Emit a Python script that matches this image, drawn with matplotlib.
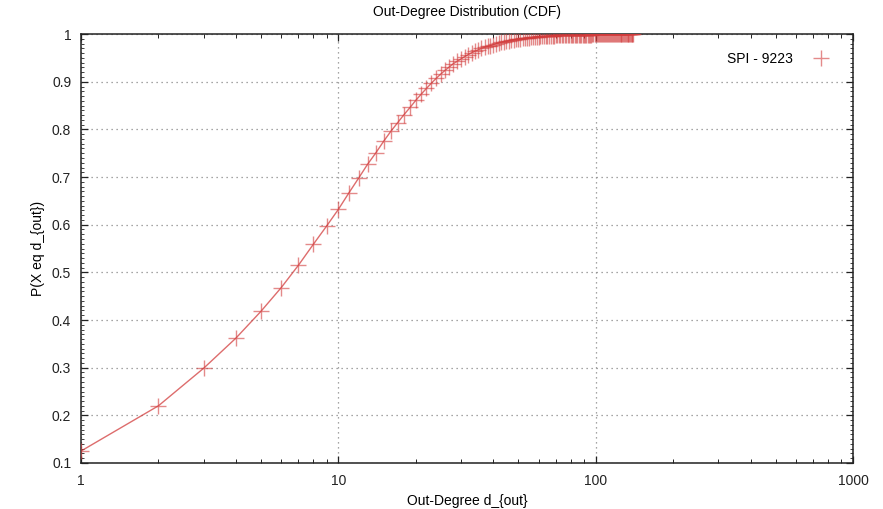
import matplotlib
matplotlib.use("Agg")
import matplotlib.pyplot as plt
from matplotlib.ticker import FixedLocator, MultipleLocator, LogLocator, NullFormatter

plt.rcParams['font.family'] = ['Liberation Sans', 'DejaVu Sans']

# Out-degree values and cumulative probability P(X <= d_out)
degrees = list(range(1, 141))
cdf = [
    0.125, 0.220, 0.299, 0.362, 0.418, 0.468, 0.515, 0.559, 0.597, 0.632,
    0.667, 0.698, 0.727, 0.751, 0.775, 0.796, 0.814, 0.831, 0.846, 0.861,
    0.874, 0.886, 0.897, 0.907, 0.916, 0.924, 0.931, 0.938, 0.943, 0.948,
    0.953, 0.957, 0.961, 0.964, 0.967, 0.970, 0.972, 0.974, 0.976, 0.978,
    0.980, 0.981, 0.983, 0.984, 0.985, 0.986, 0.987, 0.988, 0.989, 0.990,
    0.9905, 0.9910, 0.9915, 0.9920, 0.9925, 0.9930, 0.9934, 0.9938, 0.9942, 0.9946,
    0.9950, 0.9953, 0.9956, 0.9959, 0.9962, 0.9964, 0.9966, 0.9968, 0.9970, 0.9972,
    0.9974, 0.9975, 0.9976, 0.9977, 0.9978, 0.9980, 0.9981, 0.9982, 0.9983, 0.9984,
    0.9985, 0.9985, 0.9986, 0.9986, 0.9987, 0.9987, 0.9988, 0.9988, 0.9989, 0.9989,
    0.9990, 0.9990, 0.9990, 0.9991, 0.9991, 0.9991, 0.9992, 0.9992, 0.9992, 0.9993,
    0.9993, 0.9993, 0.9994, 0.9994, 0.9994, 0.9994, 0.9995, 0.9995, 0.9995, 0.9995,
    0.9996, 0.9996, 0.9996, 0.9996, 0.9997, 0.9997, 0.9997, 0.9997, 0.9997, 0.9998,
    0.9998, 0.9998, 0.9998, 0.9998, 0.9999, 0.9999, 0.9999, 0.9999, 0.9999, 0.9999,
    0.9999, 1.0000, 1.0000, 1.0000, 1.0000, 1.0000, 1.0000, 1.0000, 1.0000, 1.0000,
]
series_label = "SPI - 9223"
y_ticks = [0.1, 0.2, 0.3, 0.4, 0.5, 0.6, 0.7, 0.8, 0.9, 1.0]
y_tick_labels = ["0.1", "0.2", "0.3", "0.4", "0.5", "0.6", "0.7", "0.8", "0.9", "1"]
x_ticks = [1, 10, 100, 1000]
x_tick_labels = ["1", "10", "100", "1000"]

red = "#d23c3c"

fig = plt.figure(figsize=(8.83, 5.09), dpi=100)
ax = fig.add_axes([0.0917, 0.0904, 0.8743, 0.8426])

ax.plot(degrees, cdf, color=red, alpha=0.75, linewidth=1.0, zorder=2)
ax.plot(degrees, cdf, linestyle="none", marker="+", markersize=11,
        markeredgewidth=1.0, color=red, alpha=0.6, zorder=3, label=series_label)

ax.set_xscale("log")
ax.set_xlim(1, 1000)
ax.set_ylim(0.1, 1.0)

ax.xaxis.set_major_locator(FixedLocator(x_ticks))
ax.set_xticklabels(x_tick_labels)
ax.xaxis.set_minor_locator(LogLocator(base=10, subs=range(2, 10)))
ax.xaxis.set_minor_formatter(NullFormatter())
ax.yaxis.set_major_locator(FixedLocator(y_ticks))
ax.set_yticklabels(y_tick_labels)
ax.yaxis.set_minor_locator(MultipleLocator(0.01))

ax.tick_params(which="both", direction="in", top=True, right=True,
               labelsize=10, colors="#222222")
ax.tick_params(axis="x", pad=8)
ax.tick_params(axis="y", pad=7)
ax.tick_params(which="major", length=5, width=0.9)
ax.tick_params(which="minor", length=3, width=0.7)
ax.tick_params(axis="y", which="minor", length=2, width=0.6)

ax.grid(which="major", linestyle=(0, (1, 3)), color="#888888", linewidth=0.9)
ax.set_axisbelow(True)
for s in ax.spines.values():
    s.set_linewidth(1.1)
    s.set_color("#222222")

ax.set_title("Out-Degree Distribution (CDF)", fontsize=10, pad=13)
ax.set_xlabel("Out-Degree d_{out}", fontsize=10, labelpad=4)
ax.set_ylabel("P(X eq d_{out})", fontsize=10, labelpad=5)

ax.legend(loc="upper right", frameon=False, markerfirst=False, fontsize=10,
          handlelength=2.0, borderaxespad=0.9, handletextpad=1.0)

fig.savefig("out.png", dpi=100)
